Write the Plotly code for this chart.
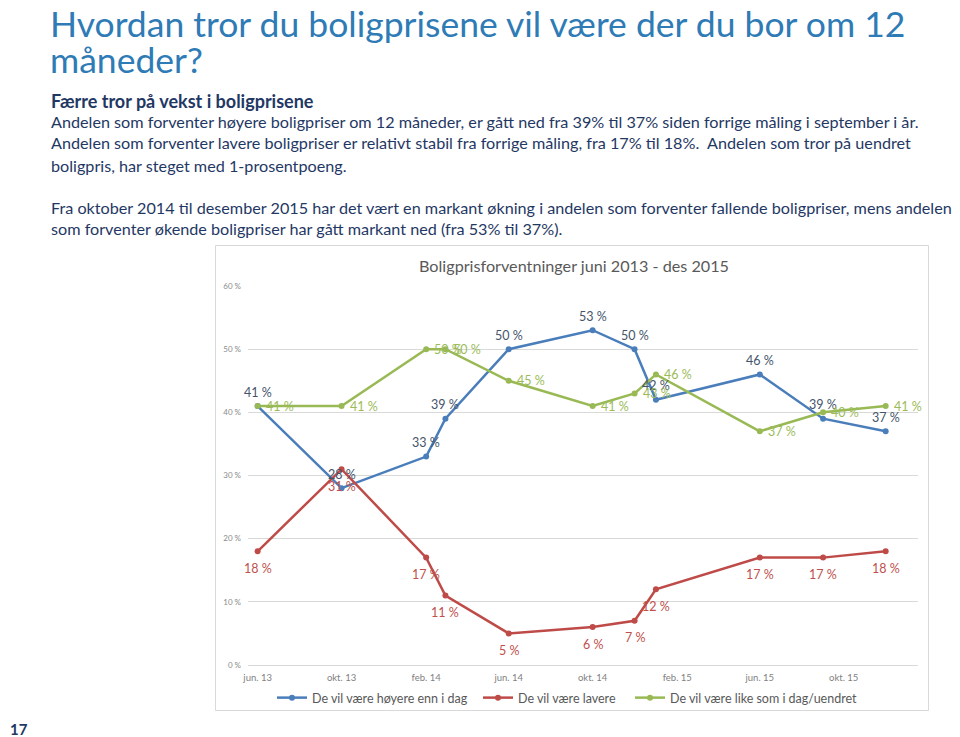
import plotly.graph_objects as go

dates = ["2013-06-01", "2013-10-01", "2014-02-01", "2014-03-01", "2014-06-01",
         "2014-10-01", "2014-12-01", "2015-01-01", "2015-06-01", "2015-09-01", "2015-12-01"]
hoyere = [41, 28, 33, 39, 50, 53, 50, 42, 46, 39, 37]
lavere = [18, 31, 17, 11, 5, 6, 7, 12, 17, 17, 18]
like = [41, 41, 50, 50, 45, 41, 43, 46, 37, 40, 41]

series_names = ["De vil være høyere enn i dag", "De vil være lavere", "De vil være like som i dag/uendret"]

tick_dates = ["2013-06-01", "2013-10-01", "2014-02-01", "2014-06-01",
              "2014-10-01", "2015-02-01", "2015-06-01", "2015-10-01"]
tick_labels = ["jun. 13", "okt. 13", "feb. 14", "jun. 14", "okt. 14", "feb. 15", "jun. 15", "okt. 15"]

y_ticks = [0, 10, 20, 30, 40, 50, 60]
y_labels = ["0 %", "10 %", "20 %", "30 %", "40 %", "50 %", "60 %"]

# page body has an 8px margin, so the figure is drawn 8px smaller and offset
O = 8
W, H = 960 - O, 737 - O
L, R, T, B = 248 - O, 918 - O, 286 - O, 665 - O


def px(x):
    return (x - O - L) / (R - L)


def py(y):
    return (B - (y - O)) / (B - T)


BLUE = "#4a7ebb"
RED = "#be4b48"
GREEN = "#98b954"
NAVY = "#1f3864"
LBL = "Lato"

fig = go.Figure()

fig.add_trace(go.Scatter(
    x=dates, y=hoyere, name=series_names[0], mode="lines+markers",
    line=dict(color=BLUE, width=2.5), marker=dict(size=6, color=BLUE),
    legend="legend"))
fig.add_trace(go.Scatter(
    x=dates, y=lavere, name=series_names[1], mode="lines+markers",
    line=dict(color=RED, width=2.5), marker=dict(size=6, color=RED),
    legend="legend2"))
fig.add_trace(go.Scatter(
    x=dates, y=like, name=series_names[2], mode="lines+markers",
    line=dict(color=GREEN, width=2.5), marker=dict(size=6, color=GREEN),
    legend="legend3"))

annotations = []
# data labels, positioned through the data axes
for d, v in zip(dates, hoyere):
    annotations.append(dict(x=d, y=v, xref="x", yref="y", text=f"{v} %", yshift=14,
                            xanchor="center", yanchor="middle",
                            font=dict(family=LBL, size=12.5, color="#44546a")))
for d, v in zip(dates, lavere):
    annotations.append(dict(x=d, y=v, xref="x", yref="y", text=f"{v} %", yshift=-17,
                            xanchor="center", yanchor="middle",
                            font=dict(family=LBL, size=12.5, color="#c0504d")))
for d, v in zip(dates, like):
    annotations.append(dict(x=d, y=v, xref="x", yref="y", text=f"{v} %", xshift=6,
                            xanchor="left", yanchor="middle",
                            font=dict(family=LBL, size=12.5, color="#9bbb59")))

page_texts = [
    dict(text="Hvordan tror du boligprisene vil være der du bor om 12",
         x=px(48), y=py(23), xanchor="left", yanchor="middle",
         font=dict(family="Lato", size=35.5, color="#2e7bb6")),
    dict(text="måneder?",
         x=px(48), y=py(59), xanchor="left", yanchor="middle",
         font=dict(family="Lato", size=35.5, color="#2e7bb6")),
    dict(text="<b>Færre tror på vekst i boligprisene</b>", x=px(49), y=py(101),
         xanchor="left", yanchor="middle", font=dict(family="Lato", size=18, color=NAVY)),
    dict(text="Andelen som forventer høyere boligpriser om 12 måneder, er gått ned fra 39% til 37% siden forrige måling i september i år.",
         x=px(49), y=py(122), xanchor="left", yanchor="middle", font=dict(family="Lato", size=16.2, color=NAVY)),
    dict(text="Andelen som forventer lavere boligpriser er relativt stabil fra forrige måling, fra 17% til 18%.  Andelen som tror på uendret",
         x=px(49), y=py(143), xanchor="left", yanchor="middle", font=dict(family="Lato", size=16.2, color=NAVY)),
    dict(text="boligpris, har steget med 1-prosentpoeng.",
         x=px(49), y=py(165), xanchor="left", yanchor="middle", font=dict(family="Lato", size=16.2, color=NAVY)),
    dict(text="Fra oktober 2014 til desember 2015 har det vært en markant økning i andelen som forventer fallende boligpriser, mens andelen",
         x=px(49), y=py(207), xanchor="left", yanchor="middle", font=dict(family="Lato", size=16.2, color=NAVY)),
    dict(text="som forventer økende boligpriser har gått markant ned (fra 53% til 37%).",
         x=px(49), y=py(228), xanchor="left", yanchor="middle", font=dict(family="Lato", size=16.2, color=NAVY)),
    dict(text="<b>17</b>", x=px(8), y=py(728.5), xanchor="left", yanchor="middle",
         font=dict(family="Lato", size=15, color=NAVY)),
    dict(text="Boligprisforventninger juni 2013 - des 2015", x=px(574), y=py(265),
         xanchor="center", yanchor="middle", font=dict(family="Lato", size=16.2, color="#595959")),
]
for a in page_texts:
    a.update(xref="paper", yref="paper")
annotations += page_texts
for a in annotations:
    a.update(showarrow=False)

leg_common = dict(orientation="h", xanchor="left", yanchor="middle",
                  font=dict(family="Lato", size=12.5, color="#595959"),
                  bgcolor="rgba(0,0,0,0)", itemwidth=30)

fig.update_layout(
    width=W, height=H,
    margin=dict(l=L, r=W - R, t=T, b=H - B, pad=0),
    paper_bgcolor="white", plot_bgcolor="white",
    showlegend=True,
    legend=dict(x=px(272), y=py(698), **leg_common),
    legend2=dict(x=px(478), y=py(698), **leg_common),
    legend3=dict(x=px(630), y=py(698), **leg_common),
    annotations=annotations,
    shapes=[dict(type="rect", xref="paper", yref="paper", x0=px(215.5), x1=px(928.5),
                 y0=py(710.5), y1=py(245.5), line=dict(color="#d9d9d9", width=1),
                 fillcolor="rgba(0,0,0,0)", layer="below")],
    xaxis=dict(type="date", range=["2013-05-18", "2016-01-17"],
               tickvals=tick_dates, ticktext=tick_labels,
               showgrid=False, showline=True, linecolor="#d9d9d9", linewidth=1,
               ticks="", zeroline=False, ticklabelstandoff=4,
               tickfont=dict(family="Lato", size=9.5, color="#7f7f7f")),
    yaxis=dict(range=[0, 60], tickvals=y_ticks, ticktext=y_labels,
               showgrid=True, gridcolor="#d9d9d9", gridwidth=1,
               zeroline=False, showline=False, ticks="", ticklabelstandoff=6,
               tickfont=dict(family="Lato", size=8, color="#8a8a8a")),
)

fig.write_html("out.html")
